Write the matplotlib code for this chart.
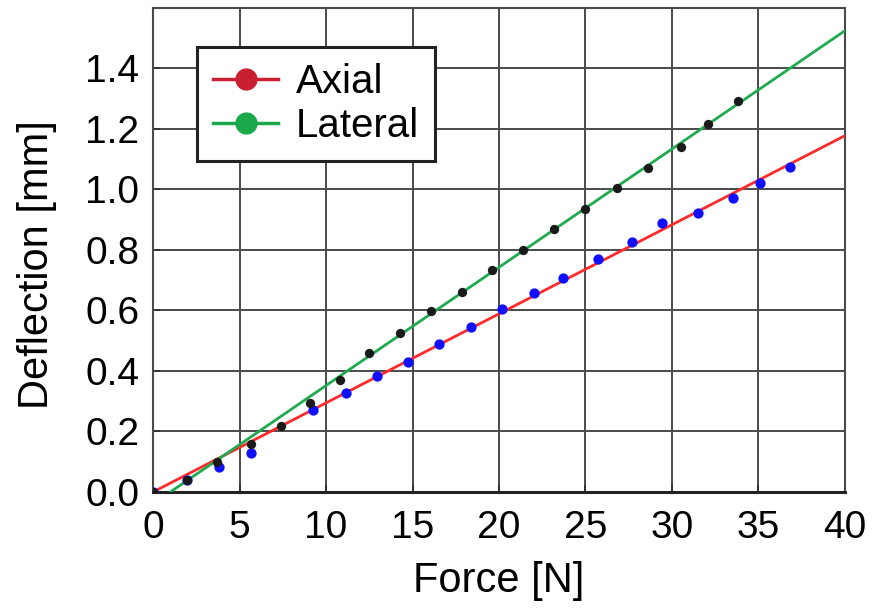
import numpy as np
import matplotlib.pyplot as plt
from matplotlib.lines import Line2D

plt.rcParams['font.family'] = ['Liberation Sans', 'DejaVu Sans']

axial_x = [0, 1.97, 3.8, 5.66, 9.25, 11.15, 12.95, 14.74, 16.53, 18.4,
           20.2, 22.0, 23.7, 25.7, 27.7, 29.4, 31.5, 33.5, 35.1, 36.8]
axial_y = [0, 0.04, 0.083, 0.129, 0.27, 0.327, 0.383, 0.429, 0.489, 0.545,
           0.604, 0.657, 0.706, 0.769, 0.825, 0.888, 0.921, 0.971, 1.023, 1.073]

lateral_x = [0, 1.97, 3.7, 5.66, 7.4, 9.07, 10.8, 12.5, 14.3, 16.07, 17.86,
             19.6, 21.4, 23.2, 25.0, 26.8, 28.6, 30.5, 32.1, 33.8]
lateral_y = [0, 0.04, 0.099, 0.158, 0.218, 0.294, 0.37, 0.459, 0.525, 0.598, 0.66,
             0.733, 0.799, 0.868, 0.934, 1.004, 1.07, 1.142, 1.215, 1.294]

# fitted lines (end points)
axial_fit_x = [0, 40]
axial_fit_y = [0.0, 1.178]
lateral_fit_x = [1.0, 40]
lateral_fit_y = [0.0, 1.525]

fig = plt.figure(figsize=(8.72, 6.15), dpi=100)
ax = fig.add_axes([0.1755, 0.2, 0.7935, 0.787])

ax.plot(axial_fit_x, axial_fit_y, color='#ff2a2a', lw=2, zorder=3)
ax.plot(lateral_fit_x, lateral_fit_y, color='#1faa4f', lw=2, zorder=3)
ax.scatter(axial_x, axial_y, s=55, color='#1010ff', zorder=4, linewidths=0)
ax.scatter(lateral_x, lateral_y, s=45, color='#1a1a1a', zorder=5, linewidths=0)

ax.set_xlim(0, 40)
ax.set_ylim(0, 1.6)
ax.set_xticks(np.arange(0, 41, 5))
ax.set_yticks(np.arange(0, 1.41, 0.2))
ax.set_yticklabels([f'{v:.1f}' for v in np.arange(0, 1.41, 0.2)])
ax.grid(True, color='#4a4a4a', lw=1.4)
ax.set_axisbelow(True)
ax.tick_params(direction='in', length=5, width=1.4, labelsize=28, color='#333333')
ax.tick_params(axis='x', pad=13)
ax.tick_params(axis='y', pad=10)
for s in ax.spines.values():
    s.set_color('#4a4a4a')
    s.set_linewidth(1.5)
ax.spines['bottom'].set_color('#222222')
ax.spines['bottom'].set_linewidth(2.2)

ax.set_xlabel('Force [N]', fontsize=30, labelpad=11)
ax.set_ylabel('Deflection [mm]', fontsize=30, labelpad=20)
ax.yaxis.label.set_y(0.47)

handles = [
    Line2D([], [], color='#c8202e', lw=2.5, marker='o', markersize=15),
    Line2D([], [], color='#1aa84a', lw=2.5, marker='o', markersize=15),
]
leg = ax.legend(handles, ['Axial', 'Lateral'], loc='upper left',
                bbox_to_anchor=(0.064, 0.92), fontsize=29, frameon=True,
                fancybox=False, handlelength=1.6, handletextpad=0.45,
                borderpad=0.4, labelspacing=0.15, borderaxespad=0)
leg.get_frame().set_edgecolor('#222222')
leg.get_frame().set_linewidth(2.2)
leg.get_frame().set_alpha(1)

fig.savefig('out.png', dpi=100)
